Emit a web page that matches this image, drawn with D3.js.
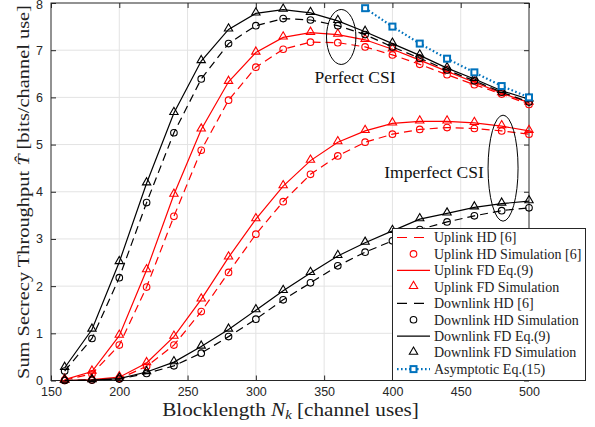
<!DOCTYPE html>
<html lang="en">
<head>
    <meta charset="UTF-8">
    <script src="https://d3js.org/d3.v7.min.js"></script>
    <style>
        body { margin: 0; background: #fff; }
        svg { display: block; }
    </style>
    <title>Sum secrecy throughput</title>
</head>
<body>
    <script type="text/javascript">
    // blocklength N_k on the x axis
    const blocklength = [160, 180, 200, 220, 240, 260, 280, 300, 320, 340, 360, 380, 400, 420, 440, 460, 480, 500];
    const xTicks = [150, 200, 250, 300, 350, 400, 450, 500];
    const yTicks = [0, 1, 2, 3, 4, 5, 6, 7, 8];

    // perfect CSI
    const ulHDPerfect = [0.01, 0.14, 0.75, 1.98, 3.48, 4.88, 5.94, 6.64, 7.02, 7.17, 7.16, 7.07, 6.90, 6.70, 6.48, 6.27, 6.07, 5.85];
    const ulFDPerfect = [0.02, 0.19, 0.95, 2.34, 3.94, 5.32, 6.33, 6.95, 7.27, 7.37, 7.33, 7.22, 7.02, 6.79, 6.55, 6.32, 6.09, 5.89];
    const dlHDPerfect = [0.20, 0.89, 2.18, 3.77, 5.25, 6.39, 7.14, 7.52, 7.67, 7.64, 7.52, 7.33, 7.07, 6.83, 6.58, 6.35, 6.11, 5.90];
    const dlFDPerfect = [0.27, 1.08, 2.51, 4.18, 5.67, 6.77, 7.44, 7.78, 7.86, 7.79, 7.62, 7.39, 7.14, 6.89, 6.62, 6.39, 6.14, 5.96];

    // imperfect CSI
    const ulHDImperfect = [0.00, 0.01, 0.04, 0.30, 0.75, 1.46, 2.29, 3.10, 3.79, 4.37, 4.76, 5.05, 5.22, 5.32, 5.36, 5.34, 5.29, 5.22];
    const ulFDImperfect = [0.00, 0.02, 0.07, 0.37, 0.93, 1.72, 2.61, 3.42, 4.12, 4.66, 5.05, 5.29, 5.45, 5.49, 5.49, 5.46, 5.39, 5.29];
    const dlHDImperfect = [0.00, 0.01, 0.03, 0.15, 0.31, 0.58, 0.93, 1.30, 1.71, 2.07, 2.43, 2.72, 2.96, 3.20, 3.36, 3.49, 3.60, 3.66];
    const dlFDImperfect = [0.00, 0.01, 0.04, 0.18, 0.39, 0.72, 1.08, 1.49, 1.90, 2.28, 2.64, 2.92, 3.17, 3.42, 3.54, 3.67, 3.75, 3.80];

    // asymptotic, only from 380 on
    const asymX = [380, 400, 420, 440, 460, 480, 500];
    const asymY = [7.89, 7.50, 7.14, 6.82, 6.53, 6.24, 6.00];

    const legendLabels = ["Uplink HD [6]", "Uplink HD Simulation [6]", "Uplink FD Eq.(9)", "Uplink FD Simulation",
        "Downlink HD [6]", "Downlink HD Simulation", "Downlink FD Eq.(9)", "Downlink FD Simulation", "Asymptotic Eq.(15)"];

    const w = 595, h = 427;
    const red = "#ff0000", black = "#000000", blue = "#0072bd";
    const serif = "'Liberation Serif', 'Times New Roman', serif";
    const sans = "'Liberation Sans', Arial, sans-serif";

    const x = d3.scaleLinear([150, 500], [51, 529]);
    const y = d3.scaleLinear([0, 8], [380.5, 3]);

    const svg = d3.select("body").append("svg")
        .attr("width", w)
        .attr("height", h);

    // grid
    svg.append("g").selectAll("line").data(xTicks.slice(1, -1)).enter().append("line")
        .attr("x1", d => x(d)).attr("x2", d => x(d))
        .attr("y1", y(0)).attr("y2", y(8))
        .attr("stroke", "#e3e3e3");
    svg.append("g").selectAll("line").data(yTicks.slice(1, -1)).enter().append("line")
        .attr("x1", x(150)).attr("x2", x(500))
        .attr("y1", d => y(d)).attr("y2", d => y(d))
        .attr("stroke", "#e3e3e3");

    // axes, ticks inside
    const axisColor = "#262626";
    const gx = svg.append("g").attr("transform", "translate(0," + y(0) + ")")
        .call(d3.axisBottom(x).tickValues(xTicks).tickSize(-5).tickPadding(7).tickFormat(d3.format("d")));
    const gxTop = svg.append("g").attr("transform", "translate(0," + y(8) + ")")
        .call(d3.axisTop(x).tickValues(xTicks).tickSize(-5).tickFormat(""));
    const gy = svg.append("g").attr("transform", "translate(" + x(150) + ",0)")
        .call(d3.axisLeft(y).tickValues(yTicks).tickSize(-5).tickPadding(8).tickFormat(d3.format("d")));
    const gyRight = svg.append("g").attr("transform", "translate(" + x(500) + ",0)")
        .call(d3.axisRight(y).tickValues(yTicks).tickSize(-5).tickFormat(""));
    [gx, gxTop, gy, gyRight].forEach(g => {
        g.selectAll("path, line").attr("stroke", axisColor);
        g.selectAll("text").attr("fill", axisColor).attr("font-family", sans).attr("font-size", "12.5px");
        g.select(".domain").attr("d", null);
    });
    // top label sits against the edge, nudge it in a little
    gy.selectAll("text").filter(d => d === 8).attr("dy", "0.45em");
    svg.append("rect")
        .attr("x", x(150)).attr("y", y(8))
        .attr("width", x(500) - x(150)).attr("height", y(0) - y(8))
        .attr("fill", "none").attr("stroke", axisColor);

    // series
    const series = [
        { vals: ulHDPerfect, color: red, dash: "8,5", marker: "circle" },
        { vals: ulFDPerfect, color: red, dash: null, marker: "triangle" },
        { vals: dlHDPerfect, color: black, dash: "8,5", marker: "circle" },
        { vals: dlFDPerfect, color: black, dash: null, marker: "triangle" },
        { vals: ulHDImperfect, color: red, dash: "8,5", marker: "circle" },
        { vals: ulFDImperfect, color: red, dash: null, marker: "triangle" },
        { vals: dlHDImperfect, color: black, dash: "8,5", marker: "circle" },
        { vals: dlFDImperfect, color: black, dash: null, marker: "triangle" }
    ];

    const line = d3.line().x(d => x(d[0])).y(d => y(d[1]));
    const tri = d3.symbol().type(d3.symbolTriangle).size(30);

    function drawMarker(g, kind, px, py, color) {
        if (kind === "circle") {
            g.append("circle").attr("cx", px).attr("cy", py).attr("r", 3.3)
                .attr("fill", "none").attr("stroke", color).attr("stroke-width", 1.1);
        } else if (kind === "triangle") {
            g.append("path").attr("d", tri).attr("transform", "translate(" + px + "," + (py - 0.8) + ")")
                .attr("fill", "none").attr("stroke", color).attr("stroke-width", 1.1);
        } else {
            g.append("rect").attr("x", px - 3).attr("y", py - 3).attr("width", 6).attr("height", 6)
                .attr("fill", "#ffffff").attr("stroke", color).attr("stroke-width", 2);
        }
    }

    const plot = svg.append("g");
    series.forEach(s => {
        const pts = blocklength.map((b, i) => [b, s.vals[i]]);
        plot.append("path").attr("d", line(pts))
            .attr("fill", "none").attr("stroke", s.color).attr("stroke-width", 1.2)
            .attr("stroke-dasharray", s.dash);
        pts.forEach(p => drawMarker(plot, s.marker, x(p[0]), y(p[1]), s.color));
    });

    const asymPts = asymX.map((b, i) => [b, asymY[i]]);
    plot.append("path").attr("d", line(asymPts))
        .attr("fill", "none").attr("stroke", blue).attr("stroke-width", 2.2)
        .attr("stroke-dasharray", "1.6,2.4");
    asymPts.forEach(p => drawMarker(plot, "square", x(p[0]), y(p[1]), blue));

    // annotations
    svg.append("ellipse")
        .attr("cx", x(362.5)).attr("cy", y(7.28)).attr("rx", 14.7).attr("ry", 27.5)
        .attr("fill", "none").attr("stroke", black);
    svg.append("text").attr("x", 355).attr("y", 83)
        .attr("font-family", serif).attr("font-size", "17.5px").attr("fill", "#111")
        .attr("text-anchor", "middle").text("Perfect CSI");
    svg.append("ellipse")
        .attr("cx", x(481)).attr("cy", y(4.5)).attr("rx", 15).attr("ry", 53)
        .attr("fill", "none").attr("stroke", black);
    svg.append("text").attr("x", 434).attr("y", 177.5)
        .attr("font-family", serif).attr("font-size", "17.5px").attr("fill", "#111")
        .attr("text-anchor", "middle").text("Imperfect CSI");

    // axis titles
    const xt = svg.append("text").attr("x", 0).attr("y", 0)
        .attr("font-family", serif).attr("font-size", "18px").attr("fill", "#222")
        .attr("text-anchor", "middle");
    xt.append("tspan").text("Blocklength ");
    xt.append("tspan").attr("font-style", "italic").text("N");
    xt.append("tspan").attr("font-style", "italic").attr("font-size", "12.5px").attr("dy", 3).text("k");
    xt.append("tspan").attr("dy", -3).text(" [channel uses]");
    // computer-modern is wider than times, so stretch to the reference width
    const xtw = xt.node().getBBox().width;
    xt.attr("transform", "translate(290.5,415.5) scale(" + (257 / xtw) + ",1)");

    const yt = svg.append("text")
        .attr("font-family", serif).attr("font-size", "17px").attr("fill", "#222")
        .attr("text-anchor", "middle");
    yt.append("tspan").text("Sum Secrecy Throughput ");
    yt.append("tspan").attr("font-style", "italic").text("T\u0302");
    yt.append("tspan").text(" [bits/channel use]");
    const ytw = yt.node().getBBox().width;
    yt.attr("transform", "translate(29,192) rotate(-90) scale(" + (374 / ytw) + ",1)");

    // legend
    const lg = svg.append("g");
    lg.append("rect").attr("x", 392.5).attr("y", 228.5).attr("width", 193).attr("height", 152)
        .attr("fill", "#fff").attr("stroke", axisColor).attr("stroke-width", 1);
    const legendStyle = [
        { color: red, dash: "10,7", marker: null },
        { color: red, dash: null, marker: "circle", noLine: true },
        { color: red, dash: null, marker: null },
        { color: red, dash: null, marker: "triangle", noLine: true },
        { color: black, dash: "10,7", marker: null },
        { color: black, dash: null, marker: "circle", noLine: true },
        { color: black, dash: null, marker: null },
        { color: black, dash: null, marker: "triangle", noLine: true },
        { color: blue, dash: "1.6,2.4", marker: "square", wide: true }
    ];
    legendLabels.forEach((lab, i) => {
        const cy = 237.5 + i * 16.45;
        const st = legendStyle[i];
        if (!st.noLine) {
            lg.append("line").attr("x1", 397).attr("x2", 430).attr("y1", cy).attr("y2", cy)
                .attr("stroke", st.color).attr("stroke-width", st.wide ? 2.2 : 1.2)
                .attr("stroke-dasharray", st.dash);
        }
        if (st.marker) drawMarker(lg, st.marker, 413.5, cy, st.color);
        lg.append("text").attr("x", 434).attr("y", cy + 4.8)
            .attr("font-family", serif).attr("font-size", "14px").attr("fill", "#222")
            .text(lab);
    });
    </script>
</body>
</html>
